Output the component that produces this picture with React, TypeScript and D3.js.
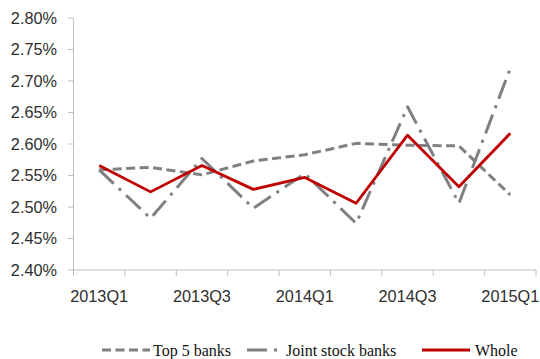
import React from "react";
import * as d3 from "d3";

const categories = ["2013Q1","2013Q2","2013Q3","2013Q4","2014Q1","2014Q2","2014Q3","2014Q4","2015Q1"];
const tickLabels = ["2013Q1","","2013Q3","","2014Q1","","2014Q3","","2015Q1"];
const top5 = [2.559, 2.563, 2.551, 2.573, 2.583, 2.601, 2.598, 2.597, 2.519];
const jointStock = [2.559, 2.482, 2.577, 2.498, 2.553, 2.474, 2.659, 2.506, 2.720];
const whole = [2.566, 2.524, 2.566, 2.528, 2.547, 2.506, 2.614, 2.532, 2.617];
const yTicks = [2.40, 2.45, 2.50, 2.55, 2.60, 2.65, 2.70, 2.75, 2.80];

const W = 540, H = 359;
const GRAY = "#808080";
const RED = "#c00000";
const AXIS = "#bfbfbf";

export default function App() {
  const x = d3.scaleBand().domain(categories).range([73.5, 536]).padding(0);
  const y = d3.scaleLinear().domain([2.4, 2.8]).range([270, 18]);
  const cx = (c: string) => (x(c) as number) + x.bandwidth() / 2;
  const line = d3.line<number>().x((_, i) => cx(categories[i])).y((v) => y(v));

  const series = [
    { name: "Top 5 banks", values: top5, color: GRAY, dash: "9,4.5", width: 3 },
    { name: "Joint stock banks", values: jointStock, color: GRAY, dash: "20,7,3,7", width: 3 },
    { name: "Whole", values: whole, color: RED, dash: undefined, width: 2.8 },
  ];

  const boundaries = categories.map((c) => x(c) as number).concat([(x(categories[categories.length - 1]) as number) + x.bandwidth()]);

  const legendItems = [
    { s: series[0], x1: 102, x2: 150, tx: 153 },
    { s: series[1], x1: 247, x2: 283, tx: 286 },
    { s: series[2], x1: 422, x2: 470, tx: 475 },
  ];

  return (
    <svg width={W} height={H} style={{ position: "absolute", left: 0, top: 0, background: "#fff" }}>
      <rect x={0} y={0} width={W} height={H} fill="#fff" />
      {/* y axis */}
      <line x1={73.5} x2={73.5} y1={y(2.8)} y2={y(2.4)} stroke={AXIS} strokeWidth={1} />
      {yTicks.map((t) => (
        <g key={t}>
          <line x1={68} x2={73.5} y1={y(t)} y2={y(t)} stroke={AXIS} />
          <text x={57} y={y(t)} dy="0.36em" textAnchor="end" fontFamily="Liberation Sans, Arial, sans-serif" fontSize={16.3} fill="#2f2f2f">
            {d3.format(".2f")(t) + "%"}
          </text>
        </g>
      ))}
      {/* x axis */}
      <line x1={73.5} x2={536} y1={270} y2={270} stroke={AXIS} strokeWidth={1} />
      {boundaries.map((b, i) => (
        <line key={i} x1={b} x2={b} y1={270} y2={276} stroke={AXIS} />
      ))}
      {categories.map((c, i) =>
        tickLabels[i] ? (
          <text key={c} x={cx(c)} y={302} textAnchor="middle" fontFamily="Liberation Sans, Arial, sans-serif" fontSize={16.3} fill="#2f2f2f">
            {tickLabels[i]}
          </text>
        ) : null
      )}
      {/* series */}
      {series.map((s) => (
        <path key={s.name} d={line(s.values) as string} fill="none" stroke={s.color} strokeWidth={s.width} strokeDasharray={s.dash} strokeLinejoin="round" />
      ))}
      {/* legend */}
      {legendItems.map(({ s, x1, x2, tx }) => (
        <g key={s.name}>
          <line x1={x1} x2={x2} y1={350} y2={350} stroke={s.color} strokeWidth={s.width} strokeDasharray={s.dash} />
          <text x={tx} y={350} dy="0.35em" fontFamily="Liberation Serif, Times New Roman, serif" fontSize={16} fill="#111">
            {s.name}
          </text>
        </g>
      ))}
    </svg>
  );
}
